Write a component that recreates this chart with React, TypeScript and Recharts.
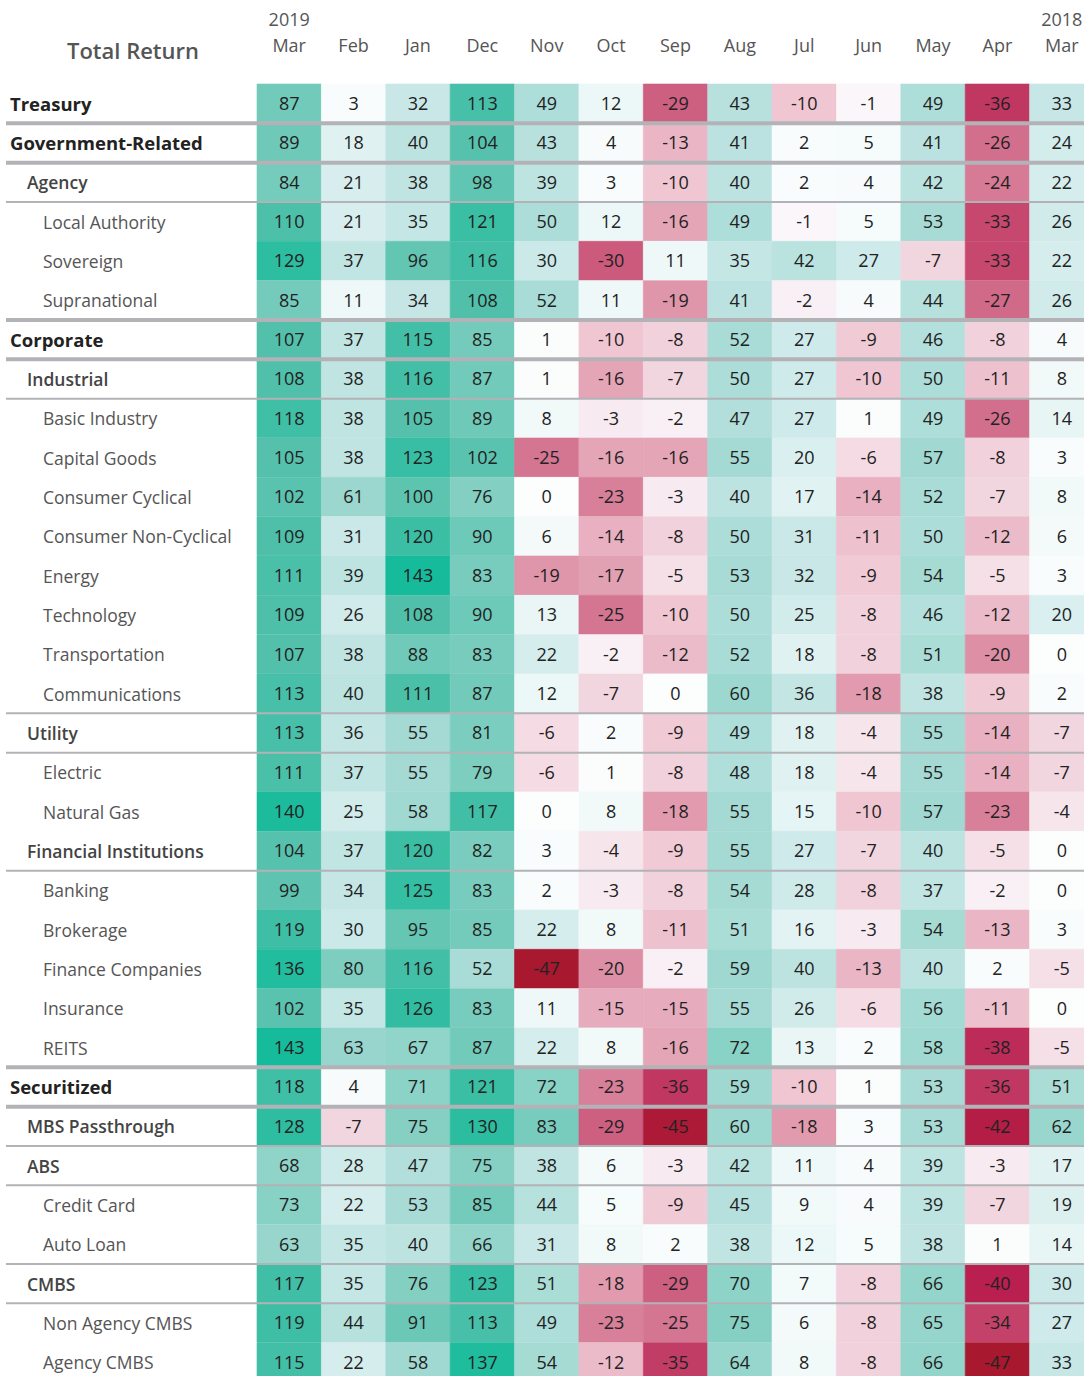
import React from "react";
import {
  BarChart,
  Bar,
  Cell,
  LabelList,
  XAxis,
  YAxis,
  ReferenceLine,
} from "recharts";

const months = ["Mar", "Feb", "Jan", "Dec", "Nov", "Oct", "Sep", "Aug", "Jul", "Jun", "May", "Apr", "Mar"];
const years = ["2019", "", "", "", "", "", "", "", "", "", "", "", "2018"];

const rowNames = [
  "Treasury",
  "Government-Related",
  "Agency",
  "Local Authority",
  "Sovereign",
  "Supranational",
  "Corporate",
  "Industrial",
  "Basic Industry",
  "Capital Goods",
  "Consumer Cyclical",
  "Consumer Non-Cyclical",
  "Energy",
  "Technology",
  "Transportation",
  "Communications",
  "Utility",
  "Electric",
  "Natural Gas",
  "Financial Institutions",
  "Banking",
  "Brokerage",
  "Finance Companies",
  "Insurance",
  "REITS",
  "Securitized",
  "MBS Passthrough",
  "ABS",
  "Credit Card",
  "Auto Loan",
  "CMBS",
  "Non Agency CMBS",
  "Agency CMBS",
];

// 0 = sector, 1 = sub-sector, 2 = industry
const rowLevels = [0, 0, 1, 2, 2, 2, 0, 1, 2, 2, 2, 2, 2, 2, 2, 2, 1, 2, 2, 1, 2, 2, 2, 2, 2, 0, 1, 1, 2, 2, 1, 2, 2];

// rules drawn on top of a row
const thickRuleAbove = ["Government-Related", "Agency", "Corporate", "Industrial", "Securitized", "MBS Passthrough"];
const thinRuleAbove = ["Local Authority", "Basic Industry", "Utility", "Electric", "Banking", "ABS", "Credit Card", "CMBS", "Non Agency CMBS"];

const treasury = [87, 3, 32, 113, 49, 12, -29, 43, -10, -1, 49, -36, 33];
const governmentRelated = [89, 18, 40, 104, 43, 4, -13, 41, 2, 5, 41, -26, 24];
const agency = [84, 21, 38, 98, 39, 3, -10, 40, 2, 4, 42, -24, 22];
const localAuthority = [110, 21, 35, 121, 50, 12, -16, 49, -1, 5, 53, -33, 26];
const sovereign = [129, 37, 96, 116, 30, -30, 11, 35, 42, 27, -7, -33, 22];
const supranational = [85, 11, 34, 108, 52, 11, -19, 41, -2, 4, 44, -27, 26];
const corporate = [107, 37, 115, 85, 1, -10, -8, 52, 27, -9, 46, -8, 4];
const industrial = [108, 38, 116, 87, 1, -16, -7, 50, 27, -10, 50, -11, 8];
const basicIndustry = [118, 38, 105, 89, 8, -3, -2, 47, 27, 1, 49, -26, 14];
const capitalGoods = [105, 38, 123, 102, -25, -16, -16, 55, 20, -6, 57, -8, 3];
const consumerCyclical = [102, 61, 100, 76, 0, -23, -3, 40, 17, -14, 52, -7, 8];
const consumerNonCyclical = [109, 31, 120, 90, 6, -14, -8, 50, 31, -11, 50, -12, 6];
const energy = [111, 39, 143, 83, -19, -17, -5, 53, 32, -9, 54, -5, 3];
const technology = [109, 26, 108, 90, 13, -25, -10, 50, 25, -8, 46, -12, 20];
const transportation = [107, 38, 88, 83, 22, -2, -12, 52, 18, -8, 51, -20, 0];
const communications = [113, 40, 111, 87, 12, -7, 0, 60, 36, -18, 38, -9, 2];
const utility = [113, 36, 55, 81, -6, 2, -9, 49, 18, -4, 55, -14, -7];
const electric = [111, 37, 55, 79, -6, 1, -8, 48, 18, -4, 55, -14, -7];
const naturalGas = [140, 25, 58, 117, 0, 8, -18, 55, 15, -10, 57, -23, -4];
const financialInstitutions = [104, 37, 120, 82, 3, -4, -9, 55, 27, -7, 40, -5, 0];
const banking = [99, 34, 125, 83, 2, -3, -8, 54, 28, -8, 37, -2, 0];
const brokerage = [119, 30, 95, 85, 22, 8, -11, 51, 16, -3, 54, -13, 3];
const financeCompanies = [136, 80, 116, 52, -47, -20, -2, 59, 40, -13, 40, 2, -5];
const insurance = [102, 35, 126, 83, 11, -15, -15, 55, 26, -6, 56, -11, 0];
const reits = [143, 63, 67, 87, 22, 8, -16, 72, 13, 2, 58, -38, -5];
const securitized = [118, 4, 71, 121, 72, -23, -36, 59, -10, 1, 53, -36, 51];
const mbsPassthrough = [128, -7, 75, 130, 83, -29, -45, 60, -18, 3, 53, -42, 62];
const abs = [68, 28, 47, 75, 38, 6, -3, 42, 11, 4, 39, -3, 17];
const creditCard = [73, 22, 53, 85, 44, 5, -9, 45, 9, 4, 39, -7, 19];
const autoLoan = [63, 35, 40, 66, 31, 8, 2, 38, 12, 5, 38, 1, 14];
const cmbs = [117, 35, 76, 123, 51, -18, -29, 70, 7, -8, 66, -40, 30];
const nonAgencyCmbs = [119, 44, 91, 113, 49, -23, -25, 75, 6, -8, 65, -34, 27];
const agencyCmbs = [115, 22, 58, 137, 54, -12, -35, 64, 8, -8, 66, -47, 33];

const values = [
  treasury, governmentRelated, agency, localAuthority, sovereign, supranational,
  corporate, industrial, basicIndustry, capitalGoods, consumerCyclical, consumerNonCyclical,
  energy, technology, transportation, communications, utility, electric, naturalGas,
  financialInstitutions, banking, brokerage, financeCompanies, insurance, reits,
  securitized, mbsPassthrough, abs, creditCard, autoLoan, cmbs, nonAgencyCmbs, agencyCmbs,
];

const posStops: [number, string][] = [
  [0, "#fcfdfd"], [11, "#eef8f8"], [22, "#d6eded"], [40, "#bde3e1"],
  [59, "#9ed8d0"], [83, "#78ccbd"], [108, "#50c0aa"], [143, "#16bb9b"],
];
const negStops: [number, string][] = [
  [0, "#fcfcfd"], [-2, "#f8f0f5"], [-10, "#efc6d2"], [-20, "#dd8fa5"],
  [-30, "#cb5a7c"], [-40, "#b91f4f"], [-47, "#a8182e"],
];

const hex = (c: string) => [1, 3, 5].map((i) => parseInt(c.slice(i, i + 2), 16));

function cellColor(v: number) {
  const stops = v >= 0 ? posStops : negStops;
  const a = Math.abs(v);
  for (let i = 1; i < stops.length; i++) {
    const lo = Math.abs(stops[i - 1][0]);
    const hi = Math.abs(stops[i][0]);
    if (a <= hi || i === stops.length - 1) {
      const t = Math.min(1, (a - lo) / (hi - lo));
      const c0 = hex(stops[i - 1][1]);
      const c1 = hex(stops[i][1]);
      const rgb = c0.map((c, k) => Math.round(c + (c1[k] - c) * t));
      return `rgb(${rgb.join(",")})`;
    }
  }
  return "#fff";
}

const rows = rowNames.map((name, i) => {
  const row: Record<string, string | number> = { name, level: rowLevels[i] };
  values[i].forEach((v, j) => {
    row[`v${j}`] = v;
    row[`c${j}`] = 1;
  });
  return row;
});

const FONT = "'Open Sans', 'Noto Sans', sans-serif";
const labelX = [10, 27, 43];
const labelStyle = [
  { fontSize: 18.5, fontWeight: 700, fill: "#222" },
  { fontSize: 17.5, fontWeight: 600, fill: "#444" },
  { fontSize: 17.5, fontWeight: 400, fill: "#555" },
];

const RowTick = (props: any) => {
  const { y, payload, index } = props;
  const level = rowLevels[index] ?? 2;
  const s = labelStyle[level];
  return (
    <text x={labelX[level]} y={y} dy={7} textAnchor="start" fontFamily={FONT} {...s}>
      {payload.value}
    </text>
  );
};

const MonthTick = (props: any) => {
  const { x, y, payload } = props;
  const idx = Math.floor(payload.value);
  return (
    <g>
      {years[idx] ? (
        <text x={x} y={y} dy={-50} textAnchor="middle" fontFamily={FONT} fontSize={18} fontWeight={500} fill="#555">
          {years[idx]}
        </text>
      ) : null}
      <text x={x} y={y} dy={-24} textAnchor="middle" fontFamily={FONT} fontSize={18} fontWeight={500} fill="#555">
        {months[idx]}
      </text>
    </g>
  );
};

const rule = (width: number) => (p: any) => (
  <line x1={6} y1={p.y1} x2={p.x2 + 20} y2={p.y2} stroke="#b3b3b7" strokeWidth={width} />
);

export default function App() {
  return (
    <div style={{ width: 1084, height: 1376, overflow: "hidden", position: "relative", background: "#fff" }}>
      <style>{`body{margin:0}`}</style>
      <div
        style={{
          position: "absolute",
          left: 0,
          top: 35,
          width: 266,
          textAlign: "center",
          fontFamily: FONT,
          fontSize: 22,
          fontWeight: 600,
          color: "#555",
        }}
      >
        Total Return
      </div>
      <BarChart
        width={1094}
        height={1382}
        data={rows}
        layout="vertical"
        barCategoryGap={0}
        margin={{ top: 0, right: 0, bottom: 0, left: 0 }}
      >
        <XAxis
          type="number"
          orientation="top"
          domain={[0, 13]}
          ticks={months.map((_, i) => i + 0.5)}
          height={84}
          axisLine={false}
          tickLine={false}
          tick={<MonthTick />}
          interval={0}
        />
        <YAxis
          type="category"
          dataKey="name"
          width={257}
          axisLine={false}
          tickLine={false}
          interval={0}
          tick={<RowTick />}
        />
        {months.map((_, j) => (
          <Bar key={j} dataKey={`c${j}`} stackId="a" isAnimationActive={false}>
            {rows.map((r, i) => (
              <Cell key={i} fill={cellColor(values[i][j])} stroke={cellColor(values[i][j])} strokeWidth={0.6} />
            ))}
            <LabelList
              dataKey={`v${j}`}
              position="center"
              fill="#222"
              fontSize={18}
              fontWeight={500}
              fontFamily={FONT}
            />
          </Bar>
        ))}
        {thickRuleAbove.map((name) => (
          <ReferenceLine key={name} y={name} position="start" ifOverflow="visible" shape={rule(4)} />
        ))}
        {thinRuleAbove.map((name) => (
          <ReferenceLine key={name} y={name} position="start" ifOverflow="visible" shape={rule(2)} />
        ))}
      </BarChart>
    </div>
  );
}
